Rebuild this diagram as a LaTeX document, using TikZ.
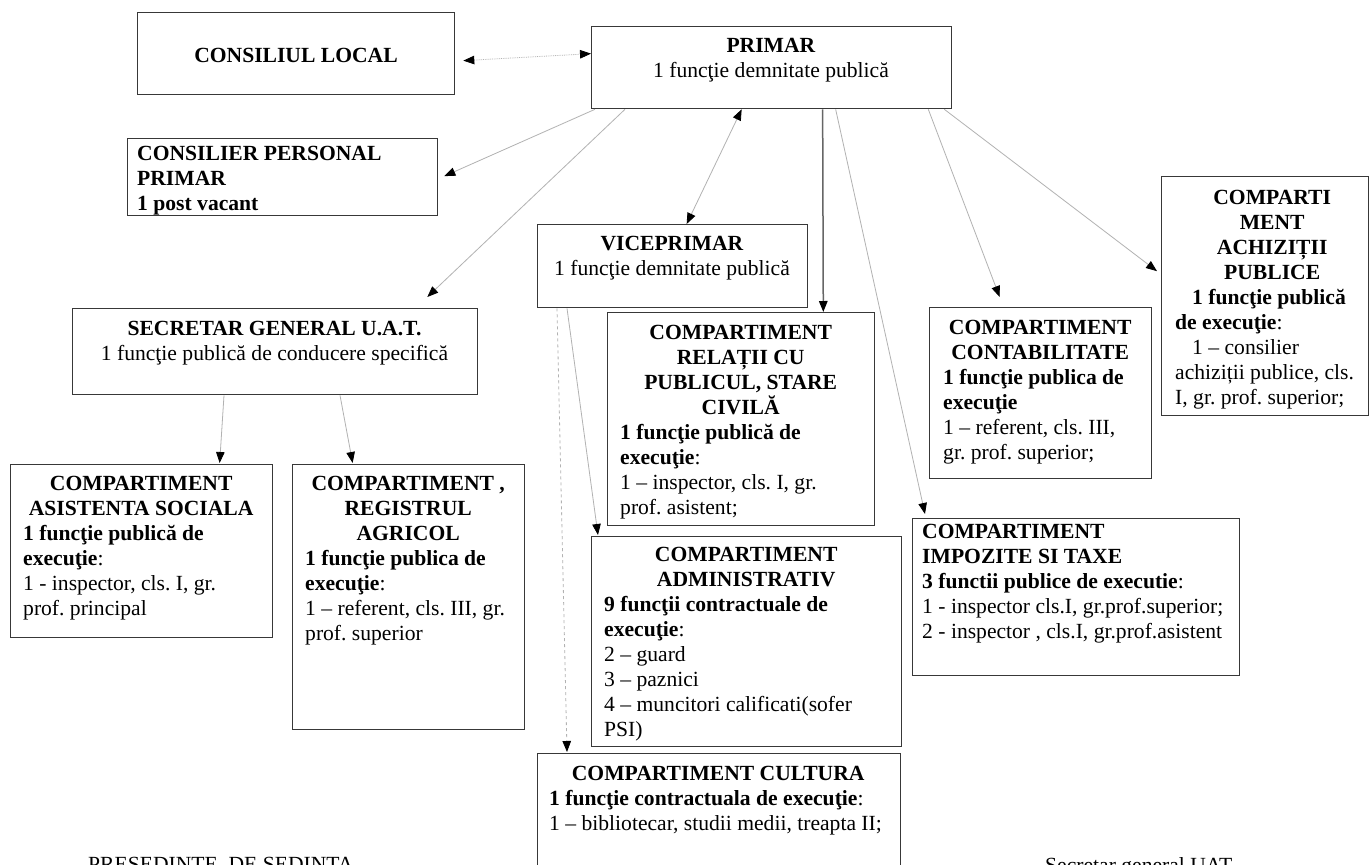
\documentclass[tikz,border=0pt]{standalone}
\usepackage{fontspec}
\setmainfont{Liberation Serif}
\usetikzlibrary{arrows.meta,calc}
\newcommand{\mkc}[2]{\makebox[#1][c]{\textbf{#2}}}
\frenchspacing
\begin{document}
\begin{tikzpicture}[x=1pt,y=-1pt,
  box/.style={draw=black!78,line width=1.3pt,inner sep=0pt,anchor=north west},
  txt/.style={inner sep=0pt,font=\fontsize{21.6}{25}\selectfont\frenchspacing,align=left,anchor=north west},
  ctxt/.style={inner sep=0pt,font=\fontsize{21.6}{25}\selectfont\frenchspacing,align=center,anchor=north},
  tip/.tip={Triangle[length=11pt,width=8.5pt,color=black]},
  conn/.style={draw=black!30,line width=0.8pt,-tip},
  dconn/.style={draw=black!30,line width=0.8pt,tip-tip},
  sconn/.style={draw=black!60,line width=1.5pt,-tip},
  ]
\fill[white] (0,0) rectangle (1369,865);
\useasboundingbox (0,0) rectangle (1369,865);

% boxes
\node[box,minimum width=317pt,minimum height=82pt] (cl) at (137,12) {};
\node[box,minimum width=360pt,minimum height=82pt] (primar) at (591,26) {};
\node[box,minimum width=310pt,minimum height=77pt] (cpp) at (127,138) {};
\node[box,minimum width=270pt,minimum height=83pt] (vice) at (537,224) {};
\node[box,minimum width=405pt,minimum height=86pt] (sec) at (72,308) {};
\node[box,minimum width=267pt,minimum height=213pt] (rel) at (607,312) {};
\node[box,minimum width=222pt,minimum height=171pt] (contab) at (929,307) {};
\node[box,minimum width=207pt,minimum height=239pt] (achiz) at (1161,176) {};
\node[box,minimum width=327pt,minimum height=157pt] (impoz) at (912,518) {};
\node[box,minimum width=310pt,minimum height=210pt] (admin) at (591,536) {};
\node[box,minimum width=363pt,minimum height=140pt] (cult) at (537,753) {};
\node[box,minimum width=262pt,minimum height=173pt] (asist) at (10,464) {};
\node[box,minimum width=232pt,minimum height=265pt] (reg) at (292,464) {};

% texts
\node[ctxt] (tcl) at (296,48) {\textbf{CONSILIUL LOCAL}};
\node[ctxt] (tprimar) at (771,38) {\textbf{PRIMAR}\\1 funcţie demnitate publică};
\node[txt] (tcpp) at (137,146) {\textbf{CONSILIER PERSONAL}\\\textbf{PRIMAR}\\\textbf{1 post vacant}};
\node[ctxt] (tvice) at (672,236) {\textbf{VICEPRIMAR}\\1 funcţie demnitate publică};
\node[ctxt] (tsec) at (274.5,321) {\textbf{SECRETAR GENERAL U.A.T.}\\1 funcţie publică de conducere specifică};
\node[txt] (trel) at (620,325) {\mkc{241pt}{COMPARTIMENT}\\\mkc{241pt}{RELAȚII CU}\\\mkc{241pt}{PUBLICUL, STARE}\\\mkc{241pt}{CIVILĂ}\\
  \textbf{1 funcţie publică de}\\\textbf{execuţie}:\\1 – inspector, cls. I, gr.\\prof. asistent;};
\node[txt] (tcontab) at (943,320) {\mkc{194pt}{COMPARTIMENT}\\\mkc{194pt}{CONTABILITATE}\\
  \textbf{1 funcţie publica de}\\\textbf{execuţie}\\1 – referent, cls. III,\\gr. prof. superior;};
\node[txt] (tachiz) at (1175,190) {\mkc{194pt}{COMPARTI}\\\mkc{194pt}{MENT}\\\mkc{194pt}{ACHIZIȚII}\\\mkc{194pt}{PUBLICE}\\
  \hspace*{17pt}\textbf{1 funcţie publică}\\\textbf{de execuţie}:\\\hspace*{17pt}1 – consilier\\achiziții publice, cls.\\I, gr. prof. superior;};
\node[txt] (timpoz) at (922,524) {\textbf{COMPARTIMENT}\\\textbf{IMPOZITE SI TAXE}\\\textbf{3 functii publice de executie}:\\
  1 - inspector cls.I, gr.prof.superior;\\2 - inspector , cls.I, gr.prof.asistent};
\node[txt] (tadmin) at (604,547) {\mkc{284pt}{COMPARTIMENT}\\\mkc{284pt}{ADMINISTRATIV}\\
  \textbf{9 funcţii contractuale de}\\\textbf{execuţie}:\\2 – guard\\3 – paznici\\4 – muncitori calificati(sofer\\PSI)};
\node[txt] (tcult) at (549,766) {\mkc{338pt}{COMPARTIMENT CULTURA}\\
  \textbf{1 funcţie contractuala de execuţie}:\\1 – bibliotecar, studii medii, treapta II;};
\node[txt] (tasist) at (23,476) {\mkc{236pt}{COMPARTIMENT}\\\mkc{236pt}{ASISTENTA SOCIALA}\\
  \textbf{1 funcţie publică de}\\\textbf{execuţie}:\\1 - inspector, cls. I, gr.\\prof. principal};
\node[txt] (treg) at (305,476) {\mkc{206pt}{COMPARTIMENT ,}\\\mkc{206pt}{REGISTRUL}\\\mkc{206pt}{AGRICOL}\\
  \textbf{1 funcţie publica de}\\\textbf{execuţie}:\\1 – referent, cls. III, gr.\\prof. superior};
\node[txt] (tpres) at (88,857) {PRESEDINTE~~DE SEDINTA};
\node[txt] (tsecg) at (1045,857) {Secretar general UAT};

% connectors
\draw[dconn,densely dotted] ($(cl.east)+(8,7)$) -- ($(primar.west)+(0,-14)$);
\draw[conn] ($(primar.south west)+(4,0)$) -- ($(cpp.east)+(6,-1)$);
\draw[conn] ($(primar.south west)+(34,0)$) -- ($(sec.north east)+(-51,-11)$);
\draw[dconn] ($(primar.south)+(-30,0)$) -- ($(vice.north)+(14,0)$);
\draw[sconn] ($(primar.south)+(51,0)$) -- ($(rel.north east)+(-52,0)$);
\draw[conn] ($(primar.south)+(64,0)$) -- ($(impoz.north west)+(13,-4)$);
\draw[conn] ($(primar.south east)+(-24,0)$) -- ($(contab.north)+(-41,-10)$);
\draw[conn] ($(primar.south east)+(-8,0)$) -- ($(achiz.west)+(-4,-25)$);
\draw[conn] ($(vice.south west)+(30,0)$) -- ($(admin.north west)+(7,-1)$);
\draw[conn,dashed] ($(vice.south west)+(20,0)$) -- ($(cult.north west)+(30,-1)$);
\draw[conn] ($(sec.south west)+(152,0)$) -- ($(asist.north)+(78,-1)$);
\draw[conn] ($(sec.south west)+(268,0)$) -- ($(reg.north)+(-56,-1)$);
\end{tikzpicture}
\end{document}
